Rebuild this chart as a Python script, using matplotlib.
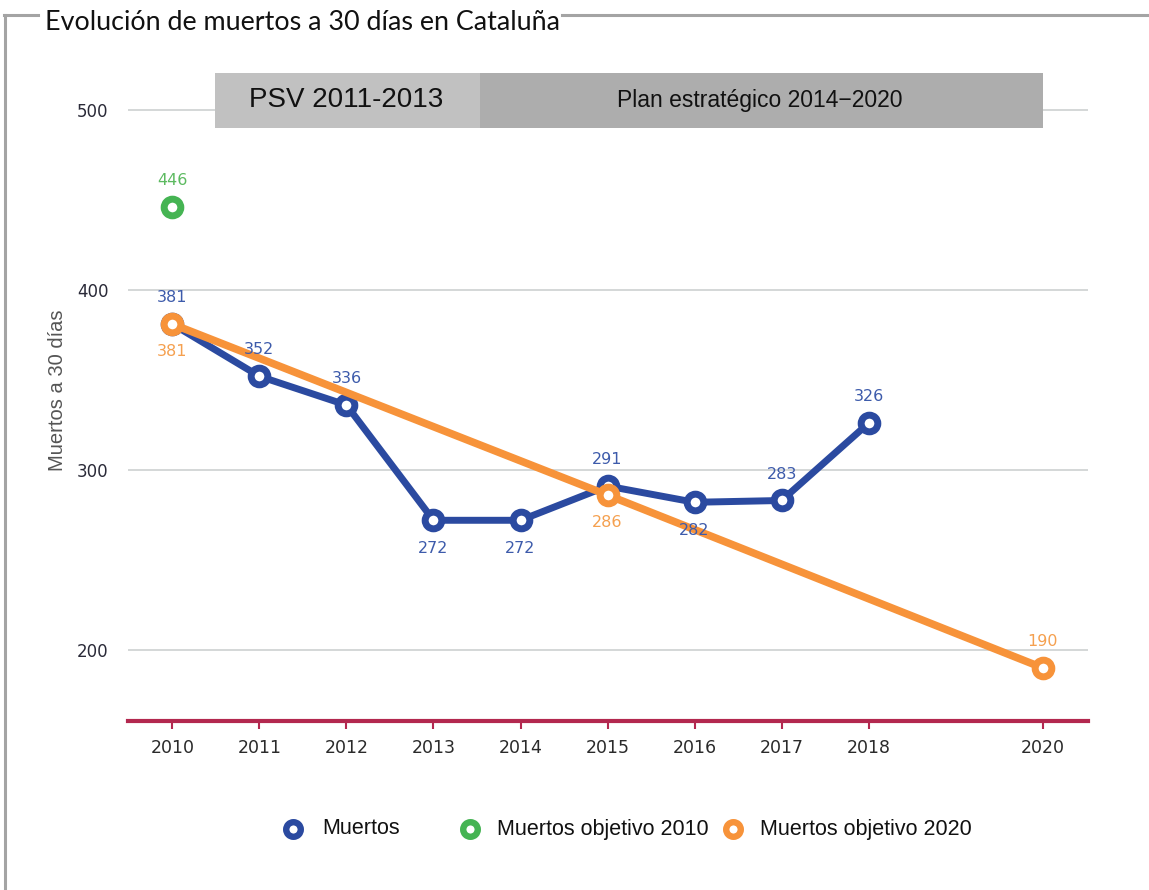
import matplotlib
matplotlib.use("Agg")
import matplotlib.pyplot as plt
from matplotlib.patches import Rectangle
from matplotlib.lines import Line2D

# ---- data ----
years_muertos = [2010, 2011, 2012, 2013, 2014, 2015, 2016, 2017, 2018]
muertos = [381, 352, 336, 272, 272, 291, 282, 283, 326]
muertos_pos = ["above", "above", "above", "below", "below", "above", "below", "above", "above"]

years_obj2010 = [2010]
obj2010 = [446]

years_obj2020 = [2010, 2015, 2020]
obj2020 = [381, 286, 190]
obj2020_pos = ["below", "below", "above"]

xticks = [2010, 2011, 2012, 2013, 2014, 2015, 2016, 2017, 2018, 2020]
yticks = [200, 300, 400, 500]

title = "Evolución de muertos a 30 días en Cataluña"
ylabel = "Muertos a 30 días"
band1_text = "PSV 2011-2013"
band2_text = "Plan estratégico 2014\u22122020"
legend_labels = ["Muertos", "Muertos objetivo 2010", "Muertos objetivo 2020"]

# ---- style ----
BLUE = "#2b4aa0"
BLUE_T = "#3d5bab"
ORANGE = "#f7933a"
ORANGE_T = "#f5a04f"
GREEN = "#45b453"
GREEN_T = "#5cba60"
CRIMSON = "#b3284f"

W, H = 1149, 890
fig = plt.figure(figsize=(W / 100, H / 100), dpi=100)
ax = fig.add_axes([128 / W, (H - 721) / H, 960 / W, 661 / H])
ax.set_xlim(2009.49, 2020.52)
ax.set_ylim(160.5, 527.7)

for s in ["top", "right", "left"]:
    ax.spines[s].set_visible(False)
ax.spines["bottom"].set_color(CRIMSON)
ax.spines["bottom"].set_linewidth(3)

ax.set_yticks(yticks)
ax.set_yticklabels([str(v) for v in yticks])
ax.set_xticks(xticks)
ax.set_xticklabels([str(v) for v in xticks])
ax.tick_params(axis="y", length=0, pad=14, labelsize=12, labelcolor="#2a2a38")
ax.tick_params(axis="x", length=6, width=1.5, color=CRIMSON, pad=7,
               labelsize=12.5, labelcolor="#2a2a2a")
for t in ax.get_xticklabels() + ax.get_yticklabels():
    t.set_fontfamily("DejaVu Sans")

ax.yaxis.grid(True, color="#c9cdcd", linewidth=1.1)
ax.set_axisbelow(True)

ax.set_ylabel(ylabel, fontsize=14.5, color="#555555", family="Liberation Sans", labelpad=7)

# bands
ax.add_patch(Rectangle((2010.49, 490), 2013.53 - 2010.49, 30.6, facecolor="#c1c1c1",
                       edgecolor="none", zorder=2))
ax.add_patch(Rectangle((2013.53, 490), 2020.0 - 2013.53, 30.6, facecolor="#adadad",
                       edgecolor="none", zorder=2))
ax.text(2012.0, 505.3, band1_text, ha="center", va="center", fontsize=20,
        family="Liberation Sans", color="#111111", zorder=3)
ax.text(2016.75, 505.3, band2_text, ha="center", va="center", fontsize=16.5,
        family="Liberation Sans", color="#111111", zorder=3)

mk = dict(marker="o", markersize=12, markeredgewidth=5.0, markerfacecolor="white")
ax.plot(years_muertos, muertos, color=BLUE, linewidth=5, markeredgecolor=BLUE, zorder=4, **mk)
ax.plot(years_obj2020, obj2020, color=ORANGE, linewidth=5.5, markeredgecolor=ORANGE, zorder=5, **mk)
ax.plot(years_obj2010, obj2010, linestyle="none", markeredgecolor=GREEN, zorder=5, **mk)

def labels(xs, ys, pos, color):
    for x, y, p in zip(xs, ys, pos):
        off = 19 if p == "above" else -20
        ax.annotate(str(y), (x, y), xytext=(0, off), textcoords="offset points",
                    ha="center", va="center", fontsize=11.5, color=color,
                    family="DejaVu Sans", zorder=6)

labels(years_muertos, muertos, muertos_pos, BLUE_T)
labels(years_obj2020, obj2020, obj2020_pos, ORANGE_T)
labels(years_obj2010, obj2010, ["above"], GREEN_T)

# legend (manual)
leg_y = 1 - 829 / H
for (mx, tx), lab, col in zip([(293, 322), (470, 497), (733, 760)], legend_labels,
                              [BLUE, GREEN, ORANGE]):
    fig.add_artist(Line2D([mx / W], [leg_y], transform=fig.transFigure, marker="o",
                          markersize=10.5, markeredgewidth=4.6, markerfacecolor="white",
                          markeredgecolor=col, linestyle="none"))
    fig.text(tx / W, leg_y, lab, ha="left", va="center", fontsize=15.5,
             family="Liberation Sans", color="#111111")

# frame
frame_col = "#a4a4a4"
fy = 1 - 15 / H
fig.add_artist(Line2D([5 / W, 5 / W], [0, fy], transform=fig.transFigure, color=frame_col, lw=2.2))
fig.add_artist(Line2D([4 / W, 38 / W], [fy, fy], transform=fig.transFigure, color=frame_col, lw=2.2))
fig.add_artist(Line2D([562 / W, 1], [fy, fy], transform=fig.transFigure, color=frame_col, lw=2.2))
fig.text(45 / W, 1 - 22 / H, title, ha="left", va="center", fontsize=19.4,
         family="Lato", color="#111111")

fig.savefig("out.png", dpi=100)
